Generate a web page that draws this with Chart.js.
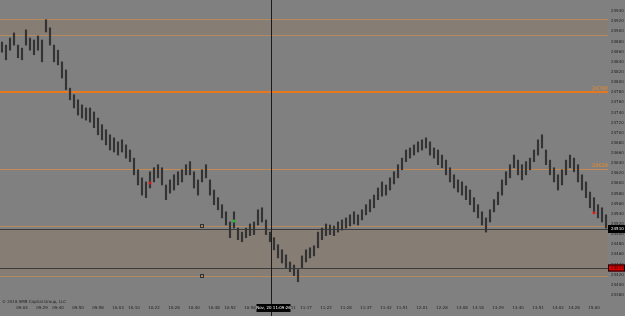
<!DOCTYPE html>
<html lang="en">
<head>
    <meta charset="UTF-8">
    <title>YM tick chart</title>
    <style>
        body {
            margin: 0;
            padding: 0;
            background-color: #808080;
        }
        #wrap {
            width: 625px;
            height: 316px;
        }
    </style>
</head>
<body>
    <div id="wrap">
        <canvas id="myChart" width="625" height="316"></canvas>
    </div>

    <script src="https://cdn.jsdelivr.net/npm/chart.js"></script>
    <script>
        // bar ranges (low / high), left to right
        var lows = [
            24859, 24844, 24863, 24873, 24848, 24844, 24873, 24863, 24854, 24863,
            24840, 24899, 24873, 24840, 24834, 24808, 24785, 24765, 24749, 24735,
            24729, 24725, 24721, 24710, 24696, 24686, 24676, 24666, 24662, 24656,
            24662, 24650, 24643, 24617, 24597, 24577, 24572, 24591, 24603, 24611,
            24597, 24568, 24581, 24587, 24597, 24603, 24617, 24617, 24591, 24577,
            24603, 24611, 24577, 24558, 24548, 24532, 24518, 24493, 24512, 24489,
            24485, 24493, 24497, 24499, 24518, 24524, 24499, 24485, 24469, 24453,
            24443, 24434, 24426, 24418, 24406, 24434, 24445, 24453, 24457, 24473,
            24489, 24497, 24499, 24497, 24504, 24508, 24512, 24516, 24520, 24518,
            24528, 24538, 24544, 24552, 24568, 24575, 24577, 24587, 24599, 24611,
            24627, 24643, 24650, 24656, 24662, 24666, 24670, 24656, 24650, 24637,
            24631, 24617, 24603, 24591, 24583, 24577, 24568, 24558, 24544, 24532,
            24518, 24504, 24524, 24544, 24558, 24577, 24597, 24611, 24631, 24617,
            24607, 24617, 24627, 24643, 24656, 24670, 24637, 24617, 24603, 24587,
            24597, 24617, 24631, 24623, 24603, 24587, 24572, 24552, 24544, 24532,
            24524, 24512
        ];
        var highs = [
            24879, 24873, 24887, 24897, 24873, 24867, 24903, 24887, 24883, 24891,
            24883, 24923, 24907, 24873, 24863, 24840, 24824, 24788, 24775, 24765,
            24755, 24749, 24749, 24741, 24729, 24716, 24706, 24696, 24690, 24682,
            24686, 24676, 24666, 24650, 24627, 24611, 24603, 24623, 24631, 24637,
            24631, 24597, 24607, 24617, 24623, 24627, 24637, 24643, 24623, 24607,
            24627, 24637, 24607, 24587, 24572, 24558, 24544, 24524, 24544, 24512,
            24504, 24512, 24520, 24524, 24548, 24552, 24528, 24504, 24493, 24479,
            24469, 24459, 24445, 24439, 24430, 24457, 24469, 24473, 24477, 24504,
            24512, 24520, 24518, 24516, 24524, 24528, 24532, 24538, 24544, 24538,
            24548, 24558, 24568, 24577, 24591, 24603, 24597, 24611, 24623, 24637,
            24650, 24666, 24670, 24676, 24682, 24686, 24690, 24682, 24670, 24666,
            24656, 24646, 24631, 24617, 24607, 24603, 24595, 24587, 24572, 24558,
            24544, 24532, 24548, 24568, 24583, 24607, 24623, 24637, 24656, 24646,
            24637, 24643, 24650, 24666, 24686, 24696, 24666, 24646, 24631, 24617,
            24627, 24646, 24656, 24650, 24637, 24617, 24603, 24583, 24572, 24558,
            24552, 24538
        ];

        var timeLabels = [
            '09:04', '09:29', '09:40', '09:50', '09:58', '10:03', '10:10', '10:22',
            '10:28', '10:40', '10:48', '10:52', '10:58', '11:05', '11:11', '11:17',
            '11:22', '11:28', '11:37', '11:42', '11:51', '12:01', '12:28', '13:08',
            '13:18', '13:29', '13:40', '13:51', '14:02', '14:28', '15:00'
        ];

        var priceTicks = [
            24380, 24400, 24420, 24440, 24460, 24480, 24500, 24520, 24540, 24560,
            24580, 24600, 24620, 24640, 24660, 24680, 24700, 24720, 24740, 24760,
            24780, 24800, 24820, 24840, 24860, 24880, 24900, 24920, 24940
        ];

        // horizontal levels
        var upperZone = [24893, 24925];
        var lowerZone = [24418, 24510];
        var mainLevel = 24781;
        var midLevel = 24629;
        var zoneEdges = [24516, 24434];
        var lastPrice = 24510;
        var alertPrice = 24433;

        // signal dots: [bar, price]
        var sellMarks = [[37, 24601], [148, 24542]];
        var buyMarks = [[58, 24526]];

        var cursorBar = 67.25;
        var cursorText = 'Nov, 20 11:09:26';

        var labels = lows.map(function (v, i) { return i; });
        var bars = lows.map(function (v, i) { return [v, highs[i]]; });

        function markSeries(marks) {
            var arr = labels.map(function () { return null; });
            marks.forEach(function (m) { arr[m[0]] = m[1]; });
            return arr;
        }

        var tickAt = {};
        timeLabels.forEach(function (t, k) {
            tickAt[Math.round(4.75 + k * 4.78)] = t;
        });

        function noPad(s) {
            s.paddingTop = 0;
            s.paddingBottom = 0;
            s.paddingLeft = 0;
            s.paddingRight = 0;
        }

        var levelsPlugin = {
            id: 'levels',
            beforeDatasetsDraw: function (chart) {
                var ctx = chart.ctx, a = chart.chartArea, y = chart.scales.y;
                ctx.save();
                // shaded zones
                ctx.fillStyle = 'rgba(142,120,100,0.4)';
                var t1 = y.getPixelForValue(upperZone[1]), b1 = y.getPixelForValue(upperZone[0]);
                ctx.fillRect(a.left, t1, a.right - a.left, b1 - t1);
                var t2 = y.getPixelForValue(lowerZone[1]), b2 = y.getPixelForValue(lowerZone[0]);
                ctx.fillRect(a.left, t2, a.right - a.left, b2 - t2);

                function hline(v, color, w) {
                    var p = Math.round(y.getPixelForValue(v)) + (w % 2 ? 0.5 : 0);
                    ctx.strokeStyle = color;
                    ctx.lineWidth = w;
                    ctx.beginPath();
                    ctx.moveTo(a.left, p);
                    ctx.lineTo(a.right, p);
                    ctx.stroke();
                }
                hline(upperZone[0], '#b68a60', 1);
                hline(upperZone[1], '#b68a60', 1);
                hline(mainLevel, '#e8781e', 2);
                hline(midLevel, '#c48a52', 1);
                hline(zoneEdges[0], '#b68a60', 1);
                hline(lowerZone[0], '#b68a60', 1);
                hline(lastPrice, '#3c3c3c', 1);
                hline(zoneEdges[1], '#3c3c3c', 1);

                // little level tags
                var xs = chart.scales.x.getPixelForValue(50);
                ctx.strokeStyle = '#333';
                ctx.lineWidth = 1;
                ctx.strokeRect(Math.round(xs) - 1.5, Math.round(y.getPixelForValue(zoneEdges[0])) - 1.5, 3, 3);
                ctx.strokeRect(Math.round(xs) - 1.5, Math.round(y.getPixelForValue(lowerZone[0])) - 1.5, 3, 3);
                ctx.restore();
            },
            afterDatasetsDraw: function (chart) {
                var ctx = chart.ctx, a = chart.chartArea, y = chart.scales.y, x = chart.scales.x;
                ctx.save();
                // cursor line
                var cx = Math.round(x.getPixelForValue(cursorBar)) + 0.5;
                ctx.strokeStyle = '#1a1a1a';
                ctx.lineWidth = 1;
                ctx.beginPath();
                ctx.moveTo(cx, 0);
                ctx.lineTo(cx, chart.height);
                ctx.stroke();

                ctx.font = '4px "DejaVu Sans"';
                ctx.textBaseline = 'middle';

                // cursor time box
                ctx.fillStyle = '#000';
                ctx.fillRect(cx - 15, a.bottom + 4, 34, 8);
                ctx.fillStyle = '#fff';
                ctx.textAlign = 'center';
                ctx.fillText(cursorText, cx + 2, a.bottom + 8);

                // level texts
                ctx.font = '5px "DejaVu Sans"';
                ctx.textAlign = 'right';
                ctx.fillStyle = '#f08a20';
                ctx.fillText(String(mainLevel - 1), a.right, y.getPixelForValue(mainLevel) - 3);
                ctx.fillText(String(midLevel), a.right, y.getPixelForValue(midLevel) - 3);

                // last price box
                ctx.font = '4px "DejaVu Sans"';
                ctx.textAlign = 'left';
                var py = Math.round(y.getPixelForValue(lastPrice));
                ctx.fillStyle = '#000';
                ctx.fillRect(a.right, py - 4, 17, 8);
                ctx.fillStyle = '#fff';
                ctx.fillText(String(lastPrice), a.right + 3, py);

                var ry = Math.round(y.getPixelForValue(alertPrice));
                ctx.fillStyle = '#e00000';
                ctx.fillRect(a.right, ry - 3.5, 17, 7);
                ctx.strokeStyle = '#000';
                ctx.strokeRect(a.right + 0.5, ry - 3, 16, 6);
                ctx.fillStyle = '#200000';
                ctx.fillText(String(alertPrice), a.right + 3, ry);

                // copyright
                ctx.font = '4px "DejaVu Sans"';
                ctx.fillStyle = '#1e1e1e';
                ctx.fillText('\u00a9 2018 SMB Capital Group, LLC', 2, a.bottom + 2);
                ctx.restore();
            }
        };

        var ctx = document.getElementById('myChart').getContext('2d');
        new Chart(ctx, {
            type: 'bar',
            data: {
                labels: labels,
                datasets: [{
                    data: bars,
                    backgroundColor: '#333333',
                    barThickness: 1.5,
                    order: 2
                }, {
                    type: 'line',
                    data: markSeries(sellMarks),
                    showLine: false,
                    pointRadius: 1.5,
                    pointBackgroundColor: '#e01818',
                    pointBorderWidth: 0,
                    order: 1
                }, {
                    type: 'line',
                    data: markSeries(buyMarks),
                    showLine: false,
                    pointRadius: 1.5,
                    pointBackgroundColor: '#22c022',
                    pointBorderWidth: 0,
                    order: 1
                }]
            },
            options: {
                responsive: false,
                animation: false,
                devicePixelRatio: 1,
                layout: { padding: 0, autoPadding: false },
                plugins: {
                    legend: { display: false },
                    tooltip: { enabled: false }
                },
                scales: {
                    x: {
                        grid: { display: false, drawTicks: false },
                        border: { display: false },
                        afterFit: function (s) { s.height = 16; noPad(s); },
                        ticks: {
                            autoSkip: false,
                            maxRotation: 0,
                            padding: 6,
                            color: '#1e1e1e',
                            font: { family: 'DejaVu Sans', size: 4 },
                            callback: function (v, i) { return tickAt[i] || ''; }
                        }
                    },
                    y: {
                        position: 'right',
                        min: 24370,
                        max: 24962,
                        grid: { display: false, drawTicks: false },
                        border: { display: false },
                        afterFit: function (s) { s.width = 17; noPad(s); },
                        afterBuildTicks: function (s) {
                            s.ticks = priceTicks.map(function (v) { return { value: v }; });
                        },
                        ticks: {
                            padding: 3,
                            color: '#1e1e1e',
                            font: { family: 'DejaVu Sans', size: 4 },
                            callback: function (v) { return String(v); }
                        }
                    }
                }
            },
            plugins: [levelsPlugin]
        });
    </script>
</body>
</html>
